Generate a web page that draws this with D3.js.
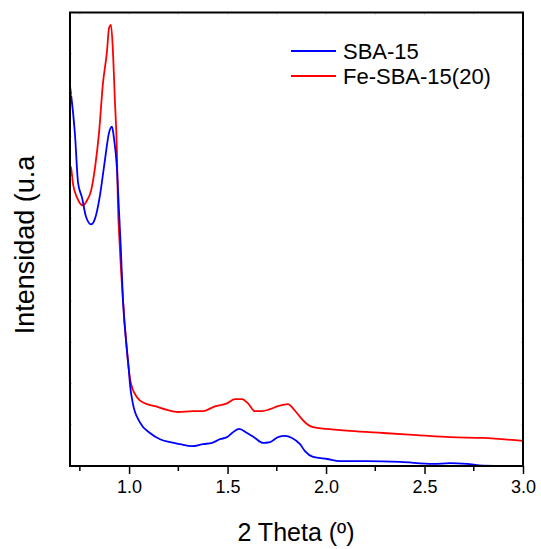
<!DOCTYPE html>
<html>
<head>
<meta charset="utf-8">
<script src="https://cdn.jsdelivr.net/npm/d3@7"></script>
<style>
  html, body { margin: 0; padding: 0; background: #fff; }
  svg { display: block; }
  text { font-family: "Liberation Sans", Arial, sans-serif; fill: #000; }
</style>
</head>
<body>
<script>
// ---- data ----
const seriesNames = ["SBA-15", "Fe-SBA-15(20)"];
const seriesColors = ["#0000ff", "#ff0000"];
const xTicks = [1.0, 1.5, 2.0, 2.5, 3.0];
const xTickLabels = ["1.0", "1.5", "2.0", "2.5", "3.0"];

const sbaTheta = [0.700,0.725,0.741,0.761,0.781,0.807,0.827,0.852,0.877,0.898,0.913,0.923,0.938,0.948,0.958,0.969,0.989,0.999,1.004,1.019,1.055,1.106,1.157,1.208,1.258,1.319,1.376,1.421,1.462,1.497,1.523,1.558,1.599,1.639,1.680,1.716,1.756,1.792,1.827,1.868,1.893,1.934,2.005,2.071,2.208,2.376,2.544,2.630,2.716,2.797,3.000];
const sbaInt   = [922,806,687,651,605,586,600,656,741,808,823,796,724,627,528,402,281,232,201,152,106,80,65,58,53,48,53,56,65,70,80,90,80,68,56,58,70,73,68,53,36,22,17,12,12,10,5,7,5,1,0];

const feTheta = [0.700,0.705,0.715,0.736,0.766,0.786,0.807,0.827,0.847,0.867,0.888,0.898,0.908,0.918,0.928,0.938,0.943,0.953,0.969,0.989,0.999,1.009,1.040,1.080,1.131,1.192,1.248,1.325,1.376,1.427,1.497,1.538,1.573,1.604,1.639,1.675,1.716,1.756,1.807,1.832,1.868,1.903,1.934,2.005,2.122,2.290,2.463,2.630,2.797,3.000];
const feInt   = [728,724,685,651,632,644,668,724,806,927,1007,1062,1070,1007,886,765,644,530,402,281,232,201,167,152,145,136,131,133,133,143,152,162,162,152,133,133,138,145,150,140,119,102,94,90,85,80,75,70,68,61];

// ---- layout ----
const W = 541, H = 549;
const pL = 70, pR = 523, pT = 12.5, pB = 466;

const svg = d3.select("body").append("svg").attr("width", W).attr("height", H);

const x = d3.scaleLinear().domain([0.7, 3.0]).range([pL, pR]);
const y = d3.scaleLinear().domain([0, 1100]).range([pB, pT]);

const series = [
  { name: seriesNames[0], color: seriesColors[0], pts: sbaTheta.map((t, i) => [t, sbaInt[i]]) },
  { name: seriesNames[1], color: seriesColors[1], pts: feTheta.map((t, i) => [t, feInt[i]]) }
];

const line = d3.line().x(d => x(d[0])).y(d => y(d[1])).curve(d3.curveMonotoneX);

svg.append("defs").append("clipPath").attr("id", "clip")
  .append("rect").attr("x", pL).attr("y", pT).attr("width", pR - pL).attr("height", pB - pT);

const g = svg.append("g").attr("clip-path", "url(#clip)");
[series[1], series[0]].forEach(s => {
  g.append("path").datum(s.pts)
    .attr("fill", "none").attr("stroke", s.color).attr("stroke-width", 1.8)
    .attr("stroke-linejoin", "round").attr("d", line);
});

// faint inner ticks on left, top, right
const faint = "#c8c8c8";
d3.range(100, 1100, 100).forEach(v => {
  svg.append("line").attr("x1", pL).attr("x2", pL + 2).attr("y1", y(v)).attr("y2", y(v)).attr("stroke", faint);
  svg.append("line").attr("x1", pR - 2).attr("x2", pR).attr("y1", y(v)).attr("y2", y(v)).attr("stroke", faint);
});
d3.range(0.75, 3.0, 0.25).forEach(t => {
  svg.append("line").attr("x1", x(t)).attr("x2", x(t)).attr("y1", pT).attr("y2", pT + 2).attr("stroke", faint);
});

// bottom axis
const xAxis = d3.axisBottom(x).tickValues(xTicks).tickFormat((d, i) => xTickLabels[i]).tickSize(8).tickPadding(6);
const ax = svg.append("g").attr("transform", `translate(0,${pB})`).call(xAxis);
ax.select(".domain").remove();
ax.selectAll(".tick line").attr("stroke", "#000").attr("stroke-width", 1.5);
ax.selectAll(".tick text").attr("font-size", 18).attr("font-family", "Liberation Sans, Arial, sans-serif").attr("fill", "#000");
d3.range(0.75, 3.0, 0.5).forEach(t => {
  svg.append("line").attr("x1", x(t)).attr("x2", x(t)).attr("y1", pB).attr("y2", pB + 5)
    .attr("stroke", "#000").attr("stroke-width", 1.5);
});

// frame
svg.append("rect").attr("x", pL).attr("y", pT).attr("width", pR - pL).attr("height", pB - pT)
  .attr("fill", "none").attr("stroke", "#000").attr("stroke-width", 2);

// axis titles
svg.append("text").attr("x", 296).attr("y", 541).attr("text-anchor", "middle")
  .attr("font-size", 25).text("2 Theta (º)");
svg.append("text").attr("transform", "translate(33.5,245) rotate(-90)").attr("text-anchor", "middle")
  .attr("font-size", 27).text("Intensidad (u.a");

// legend
const legY = [51, 76];
series.forEach((s, i) => {
  svg.append("line").attr("x1", 291).attr("x2", 336).attr("y1", legY[i]).attr("y2", legY[i])
    .attr("stroke", s.color).attr("stroke-width", 1.8);
  svg.append("text").attr("x", 343).attr("y", legY[i] + 8).attr("font-size", 22).text(s.name);
});
</script>
</body>
</html>
